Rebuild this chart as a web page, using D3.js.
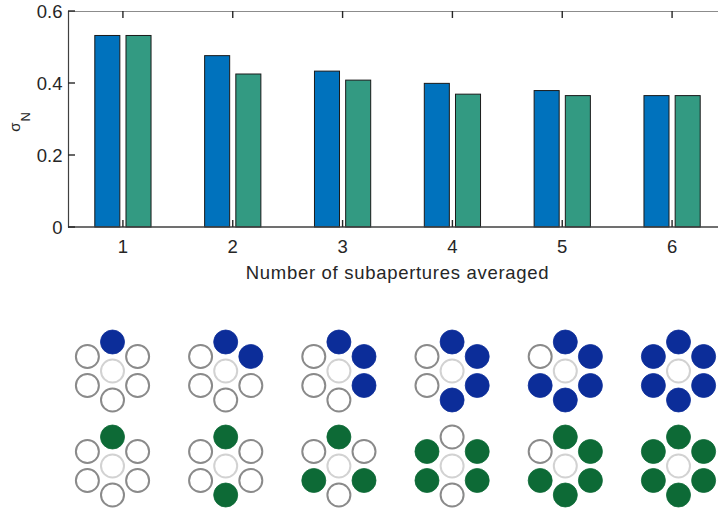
<!DOCTYPE html>
<html><head><meta charset="utf-8">
<script src="https://cdn.jsdelivr.net/npm/d3@7"></script>
<style>html,body{margin:0;padding:0;background:#fff;} svg{display:block;}</style>
</head><body>
<script>
const categories = [1, 2, 3, 4, 5, 6];
const blueValues = [0.532, 0.476, 0.433, 0.399, 0.379, 0.365];
const greenValues = [0.532, 0.425, 0.408, 0.369, 0.365, 0.365];
const yTicks = [0, 0.2, 0.4, 0.6];
const xLabel = "Number of subapertures averaged";
// hexagon positions: 0=top,1=upper-right,2=lower-right,3=bottom,4=lower-left,5=upper-left
const bluePatterns = [[0], [0, 1], [0, 1, 2], [0, 1, 2, 3], [0, 1, 2, 3, 4], [0, 1, 2, 3, 4, 5]];
const greenPatterns = [[0], [0, 3], [0, 2, 4], [1, 2, 4, 5], [0, 1, 2, 3, 4], [0, 1, 2, 3, 4, 5]];

const W = 718, H = 512;
const svg = d3.select("body").append("svg").attr("width", W).attr("height", H);
const font = "'Liberation Sans', Arial, sans-serif";

const x = d3.scaleLinear().domain([0.5, 6.5]).range([68, 727]);
const y = d3.scaleLinear().domain([0, 0.6]).range([227, 11]);
const off = 0.142, bw = 0.228;

// bars
const g = svg.append("g");
g.selectAll("rect.b").data(categories).join("rect")
  .attr("x", d => x(d - off - bw / 2)).attr("width", x(bw) - x(0))
  .attr("y", (d, i) => y(blueValues[i])).attr("height", (d, i) => y(0) - y(blueValues[i]))
  .attr("fill", "#0072BD").attr("stroke", "#1a1a1a").attr("stroke-width", 1);
g.selectAll("rect.g").data(categories).join("rect")
  .attr("x", d => x(d + off - bw / 2)).attr("width", x(bw) - x(0))
  .attr("y", (d, i) => y(greenValues[i])).attr("height", (d, i) => y(0) - y(greenValues[i]))
  .attr("fill", "#339A82").attr("stroke", "#1a1a1a").attr("stroke-width", 1);

// axes
const ax = svg.append("g").attr("font-family", font);
ax.append("line").attr("x1", 68).attr("x2", W).attr("y1", 11.5).attr("y2", 11.5).attr("stroke", "#8c8c8c").attr("stroke-width", 1.2);
ax.append("line").attr("x1", 68).attr("x2", W).attr("y1", y(0)).attr("y2", y(0)).attr("stroke", "#404040").attr("stroke-width", 1.4);
ax.append("line").attr("x1", 68.5).attr("x2", 68.5).attr("y1", 11).attr("y2", 227.5).attr("stroke", "#404040").attr("stroke-width", 1.2);

ax.selectAll("line.yt").data(yTicks).join("line")
  .attr("x1", 68).attr("x2", 75).attr("y1", d => y(d)).attr("y2", d => y(d))
  .attr("stroke", "#262626").attr("stroke-width", 1.4);
ax.selectAll("text.yt").data(yTicks).join("text")
  .attr("x", 62.5).attr("y", d => y(d)).attr("dy", "0.36em").attr("text-anchor", "end")
  .attr("font-size", 18.5).attr("fill", "#262626").text(d => d === 0 ? "0" : d3.format(".1f")(d));

ax.selectAll("line.xtb").data(categories).join("line")
  .attr("x1", d => x(d)).attr("x2", d => x(d)).attr("y1", 227).attr("y2", 220)
  .attr("stroke", "#262626").attr("stroke-width", 1.4);
ax.selectAll("line.xtt").data(categories).join("line")
  .attr("x1", d => x(d)).attr("x2", d => x(d)).attr("y1", 11).attr("y2", 18)
  .attr("stroke", "#262626").attr("stroke-width", 1.4);
ax.selectAll("text.xt").data(categories).join("text")
  .attr("x", d => x(d)).attr("y", 252.5).attr("text-anchor", "middle")
  .attr("font-size", 18.5).attr("fill", "#262626").text(d => d);
ax.append("text").attr("x", (x(0.5) + x(6.5)) / 2).attr("y", 278.5).attr("text-anchor", "middle")
  .attr("font-size", 18.5).attr("letter-spacing", 0.7).attr("fill", "#262626").text(xLabel);

const yl = ax.append("text").attr("transform", "translate(20,122) rotate(-90)").attr("text-anchor", "middle")
  .attr("font-size", 15).attr("fill", "#262626");
yl.append("tspan").text("σ");
yl.append("tspan").attr("dy", 10).attr("dx", 1).attr("font-size", 13).text("N");

// diagrams
const cx = d3.scalePoint().domain(categories).range([112.5, 678.5]);
const rows = [
  {key: "blue", patterns: bluePatterns, color: "#0c2d99"},
  {key: "green", patterns: greenPatterns, color: "#0d6a36"}
];
const cy = d3.scalePoint().domain(rows.map(r => r.key)).range([371, 466]);
const dist = 29, r = 11.5;
const angles = [90, 30, -30, -90, -150, 150];
rows.forEach(row => {
  categories.forEach((c, i) => {
    const gx = cx(c), gy = cy(row.key);
    const dg = svg.append("g");
    dg.append("circle").attr("cx", gx).attr("cy", gy).attr("r", r)
      .attr("fill", "#fff").attr("stroke", "#d2d2d2").attr("stroke-width", 2);
    angles.forEach((a, k) => {
      const px = gx + dist * Math.cos(a * Math.PI / 180);
      const py = gy - dist * Math.sin(a * Math.PI / 180);
      const filled = row.patterns[i].includes(k);
      dg.append("circle").attr("cx", px).attr("cy", py).attr("r", filled ? 12 : r)
        .attr("fill", filled ? row.color : "#fff")
        .attr("stroke", filled ? row.color : "#8a8a8a").attr("stroke-width", filled ? 0.8 : 2);
    });
  });
});
</script>
</body></html>
